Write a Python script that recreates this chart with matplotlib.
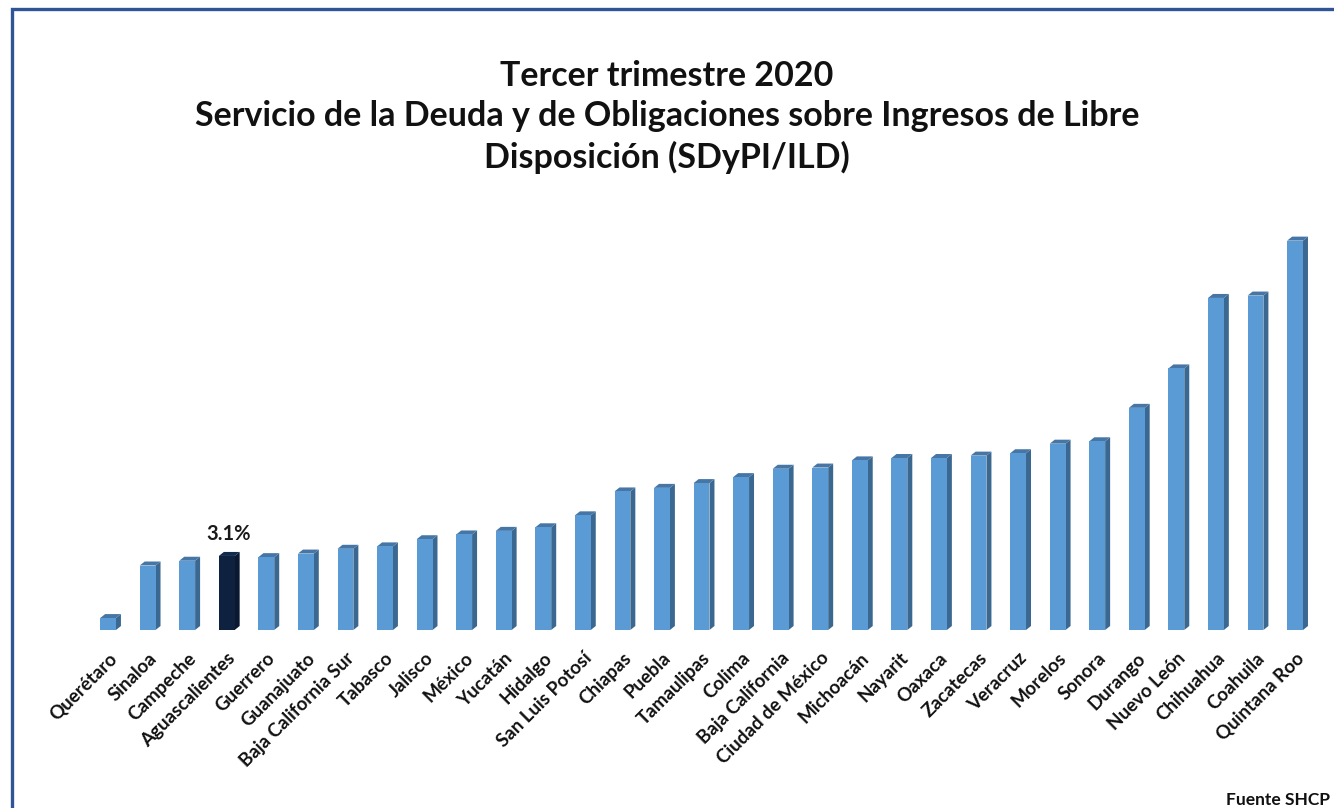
import matplotlib
matplotlib.use("Agg")
import matplotlib.pyplot as plt
from matplotlib.patches import Polygon, Rectangle

plt.rcParams['font.family'] = ['Lato', 'DejaVu Sans']

estados = ["Querétaro", "Sinaloa", "Campeche", "Aguascalientes", "Guerrero", "Guanajuato",
           "Baja California Sur", "Tabasco", "Jalisco", "México", "Yucatán", "Hidalgo",
           "San Luis Potosí", "Chiapas", "Puebla", "Tamaulipas", "Colima", "Baja California",
           "Ciudad de México", "Michoacán", "Nayarit", "Oaxaca", "Zacatecas", "Veracruz",
           "Morelos", "Sonora", "Durango", "Nuevo León", "Chihuahua", "Coahuila", "Quintana Roo"]
valores = [0.5, 2.7, 2.9, 3.1, 3.05, 3.2,
           3.4, 3.5, 3.8, 4.0, 4.15, 4.3,
           4.8, 5.8, 5.95, 6.15, 6.4, 6.75,
           6.8, 7.1, 7.2, 7.2, 7.3, 7.4,
           7.8, 7.9, 9.3, 10.95, 13.9, 14.0, 16.3]
destacado = "Aguascalientes"
etiqueta_destacado = "3.1%"
titulo = "Tercer trimestre 2020\nServicio de la Deuda y de Obligaciones sobre Ingresos de Libre\nDisposición (SDyPI/ILD)"
fuente = "Fuente SHCP"

W, H = 1334, 808
fig = plt.figure(figsize=(W / 100, H / 100), dpi=100)
fig.patch.set_facecolor("white")

ax = fig.add_axes([40 / W, 178 / H, 1280 / W, 430 / H])
ax.set_xlim(-1.72, 30.63)
ax.set_ylim(0, 18)

width = 0.40
dx = 0.126
dy = 0.167
front_c, side_c, top_c = "#5B9BD5", "#3B6891", "#4676A6"
hfront_c, hside_c, htop_c = "#0E2240", "#0A1830", "#122A4C"

xs = list(range(len(estados)))
for i, (name, v) in enumerate(zip(estados, valores)):
    hl = name == destacado
    fc, sc, tc = (hfront_c, hside_c, htop_c) if hl else (front_c, side_c, top_c)
    ax.bar(i, v, width=width, color=fc, zorder=3)
    x1 = i + width / 2
    x0 = i - width / 2
    side = Polygon([(x1, 0), (x1 + dx, dy), (x1 + dx, v + dy), (x1, v)],
                   closed=True, facecolor=sc, edgecolor="none", zorder=2)
    top = Polygon([(x0, v), (x0 + dx, v + dy), (x1 + dx, v + dy), (x1, v)],
                  closed=True, facecolor=tc, edgecolor="none", zorder=2)
    ax.add_patch(side)
    ax.add_patch(top)
    if hl:
        ax.text(i + 0.05, v + 0.5, etiqueta_destacado, ha="center", va="bottom",
                fontsize=14.5, fontweight="bold", color="#1a1a1a")

ax.set_xticks(xs)
ax.set_xticklabels(estados, rotation=45, ha="right", rotation_mode="anchor",
                   fontsize=13.5, fontweight="bold", color="#111111")
ax.tick_params(axis="x", length=0, pad=14)
ax.set_yticks([])
for s in ax.spines.values():
    s.set_visible(False)

fig.text(0.5, 1 - 117 / H, titulo, ha="center", va="center", fontsize=24.5,
         fontweight="bold", color="#111111", linespacing=1.3)

fig.text(1330 / W, 1 - 800 / H, fuente, ha="right", va="center", fontsize=12.5,
         fontweight="bold", color="#111111")

fig.add_artist(Rectangle((12 / W, -0.1), 1.2, (1 - 9.5 / H) + 0.1,
                         transform=fig.transFigure, fill=False,
                         edgecolor="#2F5597", linewidth=2.4))

fig.savefig("out.png", dpi=100)
